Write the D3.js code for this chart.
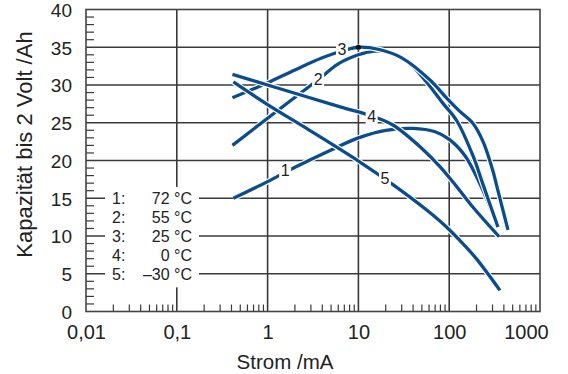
<!DOCTYPE html>
<html>
<head>
<meta charset="utf-8">
<script src="https://cdn.jsdelivr.net/npm/d3@7"></script>
<style>
  body { margin: 0; background: #fff; }
  svg { display: block; font-family: "Liberation Sans", Arial, sans-serif; }
</style>
</head>
<body>
<svg id="chart"></svg>
<script>
// Data (current in mA, capacity in Ah)
const curve72 = [[0.42, 15.0], [1, 17.2], [2, 19.1], [5, 21.4], [10, 23.0], [20, 24.0], [40, 24.25], [70, 23.8], [100, 22.8], [150, 20.6], [220, 16.8], [344, 11.2]];
const curve55 = [[0.41, 22.0], [1, 25.6], [3.6, 30.7], [6, 32.8], [10, 34.0], [15, 34.5], [22, 34.3], [37, 32.8], [57, 30.3], [85, 27.6], [122, 25.2], [183, 20.6], [236, 16.8], [344, 11.2]];
const curve25 = [[0.41, 28.3], [1, 30.3], [2, 32.0], [4, 33.6], [7, 34.6], [10, 35.0], [17, 34.7], [30, 33.6], [61, 30.7], [95, 28.2], [131, 26.5], [183, 24.9], [236, 22.5], [300, 18.8], [336, 16.5], [444, 10.8]];
const curve0 = [[0.41, 31.4], [1, 30.0], [6.3, 27.1], [14, 25.9], [24, 24.7], [50, 21.6], [79, 19.2], [120, 16.6], [183, 13.8], [355, 9.9]];
const curveM30 = [[0.42, 30.4], [1, 27.4], [2.9, 24.0], [10.4, 19.8], [24, 16.8], [57, 13.4], [97, 11.0], [149, 8.7], [202, 6.9], [362, 2.8]];
const curves = [curve72, curve55, curve25, curve0, curveM30];

// Curve number labels placed on the lines
const curveLabels = ["1", "2", "3", "4", "5"];
const curveLabelPos = [[1.56, 18.7], [3.6, 30.7], [6.6, 34.8], [14, 25.9], [19.6, 17.7]];

// Legend
const legendNums = ["1:", "2:", "3:", "4:", "5:"];
const legendTemps = ["72 °C", "55 °C", "25 °C", "0 °C", "\u201330 °C"];
const legendRows = [15, 12.5, 10, 7.5, 5];

// Axis ticks
const xTickValues = [0.01, 0.1, 1, 10, 100, 1000];
const xTickLabels = ["0,01", "0,1", "1", "10", "100", "1000"];
const yTickValues = [0, 5, 10, 15, 20, 25, 30, 35, 40];

// Set up margins and dimensions
const margin = { top: 9.5, right: 28, bottom: 62.5, left: 86 };
const width = 568 - margin.left - margin.right;
const height = 374 - margin.top - margin.bottom;

const svg = d3.select("#chart")
  .attr("width", 568)
  .attr("height", 374)
  .append("g")
  .attr("transform", "translate(" + margin.left + "," + margin.top + ")");

const x = d3.scaleLog().domain([0.01, 1000]).range([0, width]);
const y = d3.scaleLinear().domain([0, 40]).range([height, 0]);

const gridColor = "#3a3a3a";
const blue = "#0b4c8c";

// Grid lines
svg.selectAll(".hgrid")
  .data(yTickValues.filter(v => v > 0 && v < 40))
  .enter().append("line")
  .attr("x1", 0).attr("x2", width)
  .attr("y1", d => y(d)).attr("y2", d => y(d))
  .attr("stroke", gridColor).attr("stroke-width", 1.4);

svg.selectAll(".vgrid")
  .data(xTickValues.slice(1, -1))
  .enter().append("line")
  .attr("x1", d => x(d)).attr("x2", d => x(d))
  .attr("y1", 0).attr("y2", height)
  .attr("stroke", gridColor).attr("stroke-width", 1.6);

// Minor ticks
const yMinor = d3.range(1, 40).filter(v => v % 5 !== 0);
svg.selectAll(".yminor")
  .data(yMinor)
  .enter().append("line")
  .attr("x1", 0).attr("x2", 8)
  .attr("y1", d => y(d)).attr("y2", d => y(d))
  .attr("stroke", gridColor).attr("stroke-width", 1.2);

const xMinor = [];
[0.01, 0.1, 1, 10, 100].forEach(dec => d3.range(2, 10).forEach(m => xMinor.push(m * dec)));
svg.selectAll(".xminor")
  .data(xMinor)
  .enter().append("line")
  .attr("x1", d => x(d)).attr("x2", d => x(d))
  .attr("y1", height).attr("y2", height - 7)
  .attr("stroke", gridColor).attr("stroke-width", 1.2);

// White box behind the legend
svg.append("rect")
  .attr("x", 19).attr("y", y(16.5))
  .attr("width", 94).attr("height", y(3.2) - y(16.5))
  .attr("fill", "#fff");

// Legend
svg.selectAll(".legnum")
  .data(legendNums)
  .enter().append("text")
  .attr("x", 26).attr("y", (d, i) => y(legendRows[i]))
  .attr("dy", "0.36em")
  .attr("font-size", 16).attr("fill", "#222")
  .text(d => d);

svg.selectAll(".legtemp")
  .data(legendTemps)
  .enter().append("text")
  .attr("x", 106).attr("y", (d, i) => y(legendRows[i]))
  .attr("dy", "0.36em")
  .attr("text-anchor", "end")
  .attr("font-size", 16).attr("fill", "#222")
  .text(d => d);

// Curves, each with a thin white casing
const line = d3.line()
  .x(d => x(d[0]))
  .y(d => y(d[1]))
  .curve(d3.curveCatmullRom.alpha(0.5));

const cg = svg.selectAll(".curve")
  .data(curves)
  .enter().append("g");
cg.append("path")
  .attr("d", line)
  .attr("fill", "none")
  .attr("stroke", "#fff")
  .attr("stroke-width", 5.6);
cg.append("path")
  .attr("d", line)
  .attr("fill", "none")
  .attr("stroke", blue)
  .attr("stroke-width", 3.3);

// Dot on the 25 °C curve
svg.append("circle")
  .attr("cx", x(10)).attr("cy", y(35))
  .attr("r", 2.6)
  .attr("fill", "#111");

// Curve number labels with white background
const lab = svg.selectAll(".clabel")
  .data(curveLabels)
  .enter().append("g")
  .attr("transform", (d, i) => "translate(" + x(curveLabelPos[i][0]) + "," + y(curveLabelPos[i][1]) + ")");
lab.append("rect")
  .attr("x", -6).attr("y", -8).attr("width", 12).attr("height", 16)
  .attr("fill", "#fff");
lab.append("text")
  .attr("text-anchor", "middle").attr("dy", "0.36em")
  .attr("font-size", 16).attr("fill", "#222")
  .text(d => d);

// Frame
svg.append("rect")
  .attr("x", 0).attr("y", 0).attr("width", width).attr("height", height)
  .attr("fill", "none").attr("stroke", "#444").attr("stroke-width", 1.6);

// Axes
const xAxis = d3.axisBottom(x)
  .tickValues(xTickValues)
  .tickFormat((d, i) => xTickLabels[i])
  .tickSize(0)
  .tickPadding(13);

const gx = svg.append("g")
  .attr("transform", "translate(0," + height + ")")
  .call(xAxis);
gx.select(".domain").remove();
gx.selectAll("text")
  .attr("font-size", 20).attr("fill", "#222")
  .attr("font-family", null)
  .attr("dx", d => d === 1000 ? -14 : 0);

const yAxis = d3.axisLeft(y)
  .tickValues(yTickValues)
  .tickSize(0)
  .tickPadding(14);

const gy = svg.append("g").call(yAxis);
gy.select(".domain").remove();
gy.selectAll("text")
  .attr("font-size", 19).attr("fill", "#222")
  .attr("font-family", null)
  .attr("dy", "0.36em");

// Axis titles
svg.append("text")
  .attr("x", 199).attr("y", 359.5)
  .attr("text-anchor", "middle")
  .attr("font-size", 20.5).attr("fill", "#222")
  .text("Strom /mA");

svg.append("text")
  .attr("transform", "translate(" + (32 - margin.left) + "," + (144.5 - margin.top) + ") rotate(-90)")
  .attr("text-anchor", "middle")
  .attr("font-size", 22).attr("fill", "#222")
  .text("Kapazität bis 2 Volt /Ah");
</script>
</body>
</html>
